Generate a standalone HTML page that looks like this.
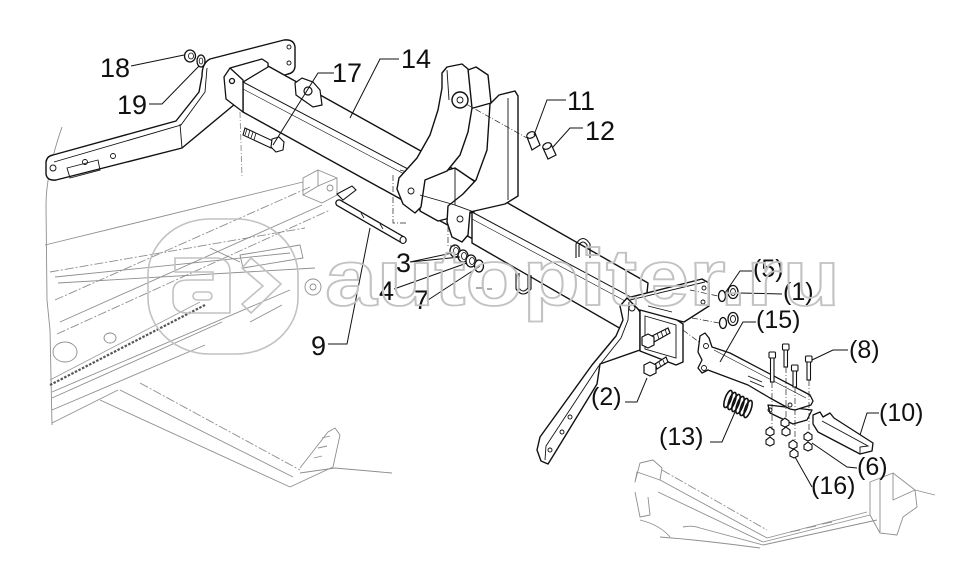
<!DOCTYPE html>
<html><head><meta charset="utf-8">
<style>
html,body{margin:0;padding:0;background:#fff;}
svg{display:block;}
text{font-family:"Liberation Sans",Arial,sans-serif;fill:#111;}
</style></head><body>
<svg width="977" height="573" viewBox="0 0 977 573" xmlns="http://www.w3.org/2000/svg">
<rect width="977" height="573" fill="#fff"/>

<!-- ghost background (light gray) -->
<g fill="none" stroke="#8e8e8e" stroke-width="0.9" stroke-linejoin="round">
  <path d="M62,127 C54,150 46,180 46,205 L47,300 L50,330 L52,425"/>
  <path d="M45,245 L303,182"/>
  <path d="M50,272 L305,228" stroke-dasharray="9 2 2 2"/>
  <path d="M55,277 L290,253"/>
  <path d="M58,283 L315,268"/>
  <path d="M55,300 L310,187" stroke-dasharray="9 2 2 2"/>
  <path d="M60,322 L322,205"/>
  <path d="M57,334 L330,210" stroke-dasharray="9 2 2 2"/>
  <path d="M303,178 L318,170 L337,178 L337,195 L322,203 L303,195 Z"/>
  <path d="M318,170 L318,186 L303,195 M318,186 L337,178"/>
  <circle cx="330" cy="188" r="3"/>
  <circle cx="313" cy="287" r="8"/>
  <circle cx="313" cy="287" r="3"/>
  <path d="M52,392 L290,290"/>
  <path d="M52,398 L222,322"/>
  <path d="M52,410 L205,345"/>
  <path d="M52,423 L118,390"/>
  <path d="M100,400 L290,487"/>
  <path d="M120,390 L293,477"/>
  <path d="M140,383 L300,470" stroke-dasharray="9 2 2 2"/>
  <path d="M290,487 L333,467 L340,435 L335,428 L328,432 L300,468"/>
  <path d="M322,438 L330,436 M318,448 L327,446 M314,458 L322,456"/>
  <path d="M300,473 L335,468 L392,473"/>
  <ellipse cx="65" cy="352" rx="12" ry="10"/>
  <ellipse cx="110" cy="338" rx="6" ry="5"/>
  <path d="M240,112 L242,178" stroke-dasharray="6 2 1 2"/>
  <path d="M240,255 L300,245 L303,258 L243,268 Z"/>
  <path d="M210,248 L240,262 M250,322 L282,305"/>
  <!-- bottom right chassis -->
  <path d="M635,482 L640,463 L653,460 L662,468 L660,480 L637,472 Z"/>
  <path d="M635,492 L640,517 L650,515 L648,497"/>
  <path d="M660,480 L767,538"/>
  <path d="M658,492 L763,542"/>
  <path d="M662,470 L767,530" stroke-dasharray="9 2 2 2"/>
  <path d="M640,520 Q660,525 670,537 M683,527 Q692,525 700,528 L763,545"/>
  <path d="M767,538 L867,512"/>
  <path d="M763,542 L870,515"/>
  <path d="M763,545 L877,520"/>
  <path d="M790,532 L800,530 M806,528 L816,526 M822,524 L832,522"/>
  <path d="M870,482 L893,473 L915,490 L917,507 L903,517 L897,535 L880,533 L870,515 Z"/>
  <path d="M880,480 L880,532 M893,473 L893,500 L915,490"/>
  <path d="M915,490 L935,495"/>
  <path d="M660,537 Q700,540 760,548"/>
</g>
<!-- ghost chain -->
<path d="M50,385 L205,305" stroke="#555" stroke-width="2.2" stroke-dasharray="2.5 1.5" fill="none"/>
<path d="M50,380 L200,302" stroke="#999" stroke-width="0.8" fill="none"/>

<!-- left arm + plate -->
<g fill="#fff" stroke="#111" stroke-width="1.4" stroke-linejoin="round">
  <path d="M210,59 L284,40 Q294,39 295,47 L295,67 Q294,73 288,74 L250,86 L235,104 L182,148 L56,180 Q47,181 46,174 L46,162 Q47,156 53,155 L176,121 L199,92 L202,76 Q202,63 210,59 Z"/>
</g>
<g fill="none" stroke="#111" stroke-width="0.9">
  <path d="M207,68 L205,92 L181,125 L54,162"/>
  <path d="M180,124 L182,148"/>
  <circle cx="53" cy="168" r="3"/>
  <circle cx="85" cy="162" r="2.5"/>
  <circle cx="113" cy="156" r="2.5"/>
  <path d="M67,168 L98,160 L100,170 L70,178 Z"/>
  <circle cx="289" cy="47" r="2"/>
  <circle cx="289" cy="63" r="2"/>
</g>

<!-- nut 18 / washer 19 -->
<g fill="#fff" stroke="#111" stroke-width="1.3">
  <ellipse cx="190" cy="56" rx="5.5" ry="6"/>
  <ellipse cx="191" cy="56" rx="2.5" ry="3" stroke-width="0.8"/>
  <ellipse cx="201" cy="61" rx="4" ry="6"/>
  <ellipse cx="201" cy="61" rx="1.8" ry="3" stroke-width="0.8"/>
</g>

<!-- left tube -->
<g fill="#fff" stroke="#111" stroke-width="1.4" stroke-linejoin="round">
  <path d="M268,66 L482,185 L482,244 L243,112 L243,82 Z"/>
</g>
<g fill="none" stroke="#111" stroke-width="1">
  <path d="M243,82 L482,208"/>
  <path d="M243,89 L482,215" stroke-width="0.6"/>
</g>
<!-- left end cap -->
<g fill="#fff" stroke="#111" stroke-width="1.3" stroke-linejoin="round">
  <path d="M224,77 L230,68 L262,59 L268,63 L268,67 L243,82 L243,112 L226,99 Z"/>
  <path d="M230,68 L243,80 L243,82" fill="none"/>
  <circle cx="232" cy="81" r="2.5"/>
</g>

<!-- lug 17 -->
<g fill="#fff" stroke="#111" stroke-width="1.2">
  <path d="M295,83 L302,78 L313,82 L320,90 L322,105 L313,107 L296,95 Z"/>
  <circle cx="308" cy="91" r="4"/>
</g>
<!-- bolt under 17 -->
<g fill="#fff" stroke="#111" stroke-width="1.1">
  <path d="M245,128 L273,141 L271,148 L243,135 Z"/>
  <path d="M247,129 L245,135 M250,130 L248,137 M253,132 L251,138 M256,133 L254,140" stroke-width="0.8"/>
  <path d="M272,139 L279,137 L284,142 L283,150 L276,152 L271,147 Z"/>
</g>

<!-- big tube -->
<g fill="#fff" stroke="#111" stroke-width="1.4" stroke-linejoin="round">
  <path d="M472,212 L499,198 L648,283 L642,341 L472,243 Z"/>
</g>
<g fill="none" stroke="#111" stroke-width="1">
  <path d="M472,212 L642,303"/>
  <path d="M472,219 L642,310" stroke-width="0.6"/>
</g>
<!-- U-bolts -->
<g fill="none" stroke="#111" stroke-width="1.1">
  <path d="M576,258 L576,244 Q583,233 590,244 L590,258"/>
  <path d="M579,257 L579,245 Q583,239 587,245 L587,256"/>
  <path d="M516,272 L516,289 Q523,299 531,289 L531,275"/>
  <path d="M519,273 L519,288 Q523,294 528,288 L528,276"/>
</g>

<!-- central bracket -->
<g fill="#fff" stroke="#111" stroke-width="1.4" stroke-linejoin="round">
  <path d="M420,178 L455,168 L474,181 L474,212 L438,221 L420,211 Z"/>
  <path d="M452,76 L476,67 L488,75 L491,103 L466,110 Z"/>
  <path d="M490,104 L499,95 L515,91 L518,96 L518,196 L505,204 L470,212 L468,235 L462,242 L452,237 L447,222 L448,206 L463,194 L476,180 L487,150 Z"/>
  <path d="M442,73 L447,67 L462,64 L468,69 L472,108 L468,132 L460,155 L447,171 L425,180 L421,207 L415,213 L403,204 L397,189 L399,178 L417,158 L430,135 L438,110 L442,88 Z"/>
  <circle cx="460" cy="100" r="8"/>
</g>
<g fill="none" stroke="#111" stroke-width="0.9">
  <path d="M508,98 L508,200"/>
  <circle cx="460" cy="100" r="3"/>
  <circle cx="460" cy="219" r="3"/>
  <circle cx="411" cy="191" r="3"/>
  <path d="M455,168 L455,205 L474,212 M420,195 L455,205"/>
  <path d="M447,70 L449,100"/>
</g>

<!-- pin 9 -->
<g>
  <path d="M339,203 L403,240" stroke="#111" stroke-width="7.5" stroke-linecap="round"/>
  <path d="M339,203 L403,240" stroke="#fff" stroke-width="5" stroke-linecap="round"/>
  <ellipse cx="403" cy="240" rx="3" ry="3.5" fill="#fff" stroke="#111" stroke-width="1"/>
  <path d="M337,194 L352,186 L356,190 L343,200 Z" fill="#fff" stroke="#111" stroke-width="1.1"/>
  <path d="M361,213 L364,218 M380,224 L383,229" stroke="#111" stroke-width="0.8"/>
</g>

<!-- rings 3/4/7 -->
<g fill="#fff" stroke="#111" stroke-width="1.3">
  <ellipse cx="455" cy="251" rx="5" ry="6"/>
  <ellipse cx="463" cy="256" rx="5" ry="6"/>
  <ellipse cx="471" cy="261" rx="5" ry="6"/>
  <ellipse cx="479" cy="266" rx="4.5" ry="6"/>
  <ellipse cx="456" cy="251" rx="2.5" ry="3.5" stroke-width="0.8"/>
  <ellipse cx="464" cy="256" rx="2.5" ry="3.5" stroke-width="0.8"/>
  <ellipse cx="472" cy="261" rx="2.5" ry="3.5" stroke-width="0.8"/>
</g>

<!-- bushings 11/12 -->
<g fill="#fff" stroke="#111" stroke-width="1.2">
  <path d="M527,137 L535,133 L540,145 L532,150 Z"/>
  <ellipse cx="531" cy="135" rx="4.5" ry="3" transform="rotate(-25 531 135)"/>
  <path d="M543,148 L551,144 L556,155 L548,159 Z"/>
  <ellipse cx="547" cy="146" rx="4.5" ry="3" transform="rotate(-25 547 146)"/>
</g>

<!-- right bracket -->
<g fill="#fff" stroke="#111" stroke-width="1.4" stroke-linejoin="round">
  <path d="M627,298 L620,306 L623,320 L616,336 L592,365 L540,437 L537,450 L541,461 L548,464 L553,456 L597,384 L600,364 L640,350 L640,312 L633,302 Z"/>
  <path d="M627,298 L702,279 L709,283 L709,306 L684,322 L640,311 Z"/>
  <path d="M640,310 L677,320 L683,324 L683,362 L676,365 L640,351 Z"/>
</g>
<g fill="none" stroke="#111" stroke-width="0.9">
  <path d="M629,302 L628,320 L621,338 L598,367 L546,446 L545,460"/>
  <path d="M630,300 L705,282"/>
  <path d="M645,316 L676,325 L676,358 L645,349 Z"/>
  <path d="M648,306 L672,312"/>
  <circle cx="632" cy="308" r="3"/>
  <circle cx="570" cy="417" r="2"/>
  <circle cx="562" cy="432" r="2"/>
  <circle cx="550" cy="450" r="2"/>
  <circle cx="704" cy="288" r="2"/>
  <circle cx="703" cy="302" r="2"/>
</g>
<!-- bolts (2) -->
<g fill="#fff" stroke="#111" stroke-width="1.2">
  <path d="M652,336 L668,328 L670,333 L654,342 Z"/>
  <path d="M642,337 L648,334 L654,337 L654,345 L648,348 L642,345 Z"/>
  <path d="M657,333 L659,339 M661,331 L663,337 M665,329 L667,335" stroke-width="0.8"/>
  <path d="M655,364 L666,357 L668,362 L657,369 Z"/>
  <path d="M644,365 L650,362 L656,365 L656,373 L650,376 L644,373 Z"/>
  <path d="M659,362 L661,367 M663,360 L665,365" stroke-width="0.8"/>
</g>

<!-- washers / nuts (5)(1) -->
<g fill="#fff" stroke="#111" stroke-width="1.3">
  <ellipse cx="722" cy="296" rx="3.5" ry="5.5"/>
  <ellipse cx="733" cy="292" rx="5" ry="6.5"/>
  <ellipse cx="733" cy="292" rx="2.5" ry="3.5" stroke-width="0.9"/>
  <ellipse cx="723" cy="323" rx="3.5" ry="5.5"/>
  <ellipse cx="733" cy="319" rx="5" ry="6.5"/>
  <ellipse cx="733" cy="319" rx="2.5" ry="3.5" stroke-width="0.9"/>
</g>

<!-- part 15 -->
<g fill="#fff" stroke="#111" stroke-width="1.3" stroke-linejoin="round">
  <path d="M768,405 L812,410 L807,420 L793,424 L770,413 Z"/>
  <path d="M700,336 L705,333 L709,338 L712,347 L730,353 L810,395 L813,401 L811,405 L795,410 L790,409 L770,398 L748,385 L708,370 L702,373 L698,368 L702,360 L698,352 Z"/>
</g>
<g fill="none" stroke="#111" stroke-width="0.9">
  <circle cx="706" cy="346" r="2.5"/>
  <circle cx="704" cy="368" r="2.5"/>
  <path d="M748,376 L762,382 M750,381 L764,387"/>
  <path d="M714,350 L806,398" stroke-width="0.6"/>
  <circle cx="790" cy="405" r="2"/>
  <circle cx="770" cy="410" r="2"/>
</g>
<!-- bolts (8) -->
<g fill="#fff" stroke="#111" stroke-width="1.1">
  <rect x="770.5" y="357" width="3.5" height="25"/>
  <rect x="769" y="352" width="6.5" height="6" rx="1"/>
  <rect x="784" y="349" width="3.5" height="18"/>
  <rect x="782.5" y="344" width="6.5" height="6" rx="1"/>
  <rect x="793" y="370" width="3.5" height="17"/>
  <rect x="791.5" y="365" width="6.5" height="6" rx="1"/>
  <rect x="807" y="361" width="3.5" height="19"/>
  <rect x="805.5" y="356" width="6.5" height="6" rx="1"/>
</g>
<!-- spring 13 -->
<g fill="none" stroke="#111" stroke-width="1.6">
  <ellipse cx="728" cy="399" rx="3" ry="9" transform="rotate(20 728 399)"/>
  <ellipse cx="732" cy="401" rx="3" ry="9" transform="rotate(20 732 401)"/>
  <ellipse cx="736" cy="403" rx="3" ry="9" transform="rotate(20 736 403)"/>
  <ellipse cx="740" cy="405" rx="3" ry="9" transform="rotate(20 740 405)"/>
  <ellipse cx="744" cy="407" rx="3" ry="9" transform="rotate(20 744 407)"/>
  <ellipse cx="748" cy="409" rx="3" ry="9" transform="rotate(20 748 409)"/>
</g>
<!-- nuts -->
<g fill="#fff" stroke="#111" stroke-width="1.1">
  <path d="M766,430 L770,427 L774,430 L774,434 L770,436 L766,434 Z"/>
  <path d="M766,440 L770,437 L774,440 L774,444 L770,446 L766,444 Z"/>
  <path d="M781,421 L785,418 L789,421 L789,425 L785,427 L781,425 Z"/>
  <path d="M782,430 L786,427 L790,430 L790,434 L786,436 L782,434 Z"/>
  <path d="M789,443 L793,440 L797,443 L797,447 L793,449 L789,447 Z"/>
  <path d="M790,452 L794,449 L798,452 L798,456 L794,458 L790,456 Z"/>
  <path d="M804,435 L808,432 L812,435 L812,439 L808,441 L804,439 Z"/>
  <path d="M804,445 L808,442 L812,445 L812,449 L808,451 L804,449 Z"/>
</g>
<!-- part 10 -->
<g fill="#fff" stroke="#111" stroke-width="1.3" stroke-linejoin="round">
  <path d="M813,415 L820,412 L823,417 L830,413 L834,418 L873,443 L872,451 L860,454 L818,432 L813,424 Z"/>
</g>
<g fill="none" stroke="#111" stroke-width="0.9">
  <path d="M822,421 L868,446 L860,447 L860,454"/>
</g>

<!-- dash-dot centre lines -->
<g fill="none" stroke="#222" stroke-width="0.7" stroke-dasharray="6 2 1 2">
  <path d="M393,175 L393,223 L406,223"/>
  <path d="M400,170 L407,172"/>
  <path d="M466,104 L527,138"/>
  <path d="M448,226 L448,246 L455,246"/>
  <path d="M772,382 L772,430"/>
  <path d="M786,367 L786,420"/>
  <path d="M795,387 L795,442"/>
  <path d="M809,380 L809,434"/>
  <path d="M690,290 L718,296"/>
  <path d="M692,318 L719,323"/>
  <path d="M683,330 L699,342"/>
  <path d="M476,288 L482,288 M487,289 L492,289"/>
</g>

<!-- leader lines -->
<g fill="none" stroke="#111" stroke-width="1">
  <path d="M131,66 L184,55"/>
  <path d="M149,104 L162,104 L199,66"/>
  <path d="M334,73 L318,73 L273,145"/>
  <path d="M399,59 L380,59 L350,118"/>
  <path d="M566,100 L547,100 L534,135"/>
  <path d="M583,128 L570,128 L553,147"/>
  <path d="M410,262 L452,253 M410,262 L460,257"/>
  <path d="M394,289 L467,263"/>
  <path d="M428,300 L480,266"/>
  <path d="M328,344 L347,344 L370,228"/>
  <path d="M725,293 L740,271 L752,271"/>
  <path d="M739,293 L782,294"/>
  <path d="M720,362 L743,322 L756,322"/>
  <path d="M812,360 L833,350 L848,350"/>
  <path d="M625,402 L637,402 L647,378"/>
  <path d="M710,442 L722,442 L735,412"/>
  <path d="M860,435 L867,413 L879,413"/>
  <path d="M812,443 L847,467 L857,468"/>
  <path d="M795,457 L812,487"/>
</g>

<!-- labels -->
<g font-size="27">
  <text x="100" y="77">18</text>
  <text x="117" y="114">19</text>
  <text x="332" y="82">17</text>
  <text x="401" y="68">14</text>
  <text x="567" y="110">11</text>
  <text x="585" y="140">12</text>
  <text x="396" y="272">3</text>
  <text x="379" y="300">4</text>
  <text x="414" y="309">7</text>
  <text x="311" y="355">9</text>
</g>
<g font-size="25">
  <text x="753" y="277">(5)</text>
  <text x="783" y="300">(1)</text>
  <text x="756" y="328">(15)</text>
  <text x="849" y="358">(8)</text>
  <text x="591" y="405">(2)</text>
  <text x="659" y="445">(13)</text>
  <text x="879" y="421">(10)</text>
  <text x="857" y="475">(6)</text>
  <text x="811" y="494">(16)</text>
</g>

<!-- watermark -->
<g fill="none" stroke="#c2c2c2" stroke-width="1.6">
  <rect x="148" y="219" width="150" height="135" rx="62" ry="56"/>
  <path d="M175,258 L215,258 Q230,258 230,272 L230,313 L188,313 Q173,313 173,300 L173,292 Q173,280 188,280 L213,280 L213,272 L175,272 Z"/>
  <rect x="193" y="292" width="19" height="8" rx="4"/>
  <path d="M242,268 L251,258 L281,284 L251,313 L242,304 L263,286 Z"/>
  <text x="325" y="305" font-size="80" font-weight="bold" textLength="515" lengthAdjust="spacingAndGlyphs" style="fill:none;stroke:#c2c2c2;stroke-width:1.8">autopiter.ru</text>
</g>
</svg>
</body></html>
